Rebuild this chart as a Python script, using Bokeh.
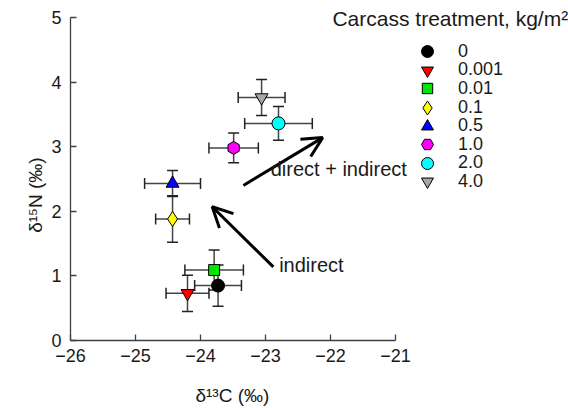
import math
from bokeh.plotting import figure
from bokeh.models import (Range1d, ColumnDataSource, Whisker, Arrow, OpenHead,
                          Label, Legend, LegendItem, TeeHead, LinearAxis)
from bokeh.embed import file_html
from bokeh.resources import INLINE

# ---- data ----
treatments = ["0", "0.001", "0.01", "0.1", "0.5", "1.0", "2.0", "4.0"]
d13C = [-23.73, -24.20, -23.79, -24.43, -24.43, -23.49, -22.80, -23.06]
d13C_err = [0.36, 0.33, 0.45, 0.26, 0.43, 0.38, 0.52, 0.36]
d15N = [0.85, 0.73, 1.09, 1.88, 2.43, 2.98, 3.36, 3.76]
d15N_err = [0.32, 0.28, 0.31, 0.36, 0.20, 0.23, 0.26, 0.28]

x_ticks = [-26, -25, -24, -23, -22, -21]
x_tick_labels = ["\u221226", "\u221225", "\u221224", "\u221223", "\u221222", "\u221221"]
y_ticks = [0, 1, 2, 3, 4, 5]
y_tick_labels = ["0", "1", "2", "3", "4", "5"]
x_title = "\u03b4\u00b9\u00b3C (\u2030)"
y_title = "\u03b4\u00b9\u2075N (\u2030)"

arrow_labels = ["direct + indirect", "indirect"]
arrow_start_x = [-23.34, -22.88]
arrow_start_y = [2.40, 1.14]
arrow_end_x = [-22.12, -23.82]
arrow_end_y = [3.14, 2.07]
arrow_text_x = [-22.92, -22.79]
arrow_text_y = [2.65, 1.17]

legend_title = "Carcass treatment, kg/m\u00b2"

# ---- styles / layout ----
markers = ["circle", "inverted_triangle", "square", "diamond", "triangle", "hex", "circle", "inverted_triangle"]
angles = [0, 0, 0, 0, 0, math.pi / 2, 0, 0]
sizes = [13, 13, 11, 15, 13, 13, 13, 13]
colors = ["#000000", "#ff0000", "#00e600", "#ffff00", "#0000ff", "#ff00ff", "#00ffff", "#a8a8a8"]
FONT = "Liberation Sans"
AXC = "#404040"
TXT = "#1a1a1a"
PX = 65.0  # pixels per data unit
LEFT, BOTTOM = 70, 66
W, H = 568, 408

x_lo, y_lo = -26, 0
x_hi = x_lo + (W - LEFT) / PX
y_hi = y_lo + (H - BOTTOM) / PX
frame_h = H - BOTTOM

p = figure(width=W, height=H, x_range=Range1d(x_lo, x_hi), y_range=Range1d(y_lo, y_hi),
           output_backend="svg", toolbar_location=None,
           min_border_left=LEFT, min_border_right=0, min_border_top=0, min_border_bottom=BOTTOM)
p.outline_line_color = None
p.grid.visible = False
p.background_fill_color = "white"
p.border_fill_color = "white"

p.xaxis[0].bounds = (x_ticks[0], x_ticks[-1])
p.yaxis[0].bounds = (y_ticks[0], y_ticks[-1])
for ax, ticks, labels, so in ((p.xaxis[0], x_ticks, x_tick_labels, 8),
                              (p.yaxis[0], y_ticks, y_tick_labels, 9)):
    ax.ticker = ticks
    ax.major_label_overrides = {float(t): l for t, l in zip(ticks, labels)}
    ax.major_tick_in = 6
    ax.major_tick_out = 0
    ax.minor_tick_line_color = None
    ax.axis_line_color = AXC
    ax.major_tick_line_color = AXC
    ax.axis_line_width = 1.3
    ax.major_tick_line_width = 1.3
    ax.major_label_text_font = FONT
    ax.major_label_text_font_size = "18px"
    ax.major_label_text_color = TXT
    ax.major_label_standoff = so
    ax.axis_label = None

# axis titles placed as single tick labels on secondary axes
xt = LinearAxis(ticker=[-23.51], major_label_overrides={-23.51: x_title},
                axis_line_color=None, major_tick_line_color=None, minor_tick_line_color=None,
                major_label_text_font=FONT, major_label_text_font_size="19px",
                major_label_text_color=TXT, major_label_standoff=14)
p.add_layout(xt, "below")
yt = LinearAxis(ticker=[2.25], major_label_overrides={2.25: y_title},
                axis_line_color=None, major_tick_line_color=None, minor_tick_line_color=None,
                major_label_text_font=FONT, major_label_text_font_size="19px",
                major_label_text_color=TXT, major_label_standoff=-4,
                major_label_orientation="vertical")
p.add_layout(yt, "left")

# error bars
src = ColumnDataSource(dict(
    x=d13C, y=d15N,
    xl=[a - e for a, e in zip(d13C, d13C_err)], xu=[a + e for a, e in zip(d13C, d13C_err)],
    yl=[a - e for a, e in zip(d15N, d15N_err)], yu=[a + e for a, e in zip(d15N, d15N_err)],
))
for dim, base, lo, up in (("width", "y", "xl", "xu"), ("height", "x", "yl", "yu")):
    w = Whisker(source=src, base=base, lower=lo, upper=up, dimension=dim,
                line_color="#444444", line_width=1.5, level="underlay",
                lower_head=TeeHead(size=11, line_color="#222222", line_width=1.5),
                upper_head=TeeHead(size=11, line_color="#222222", line_width=1.5))
    p.add_layout(w)

# markers + one small legend per item (lets marker size and row pitch differ)
LEG_GLYPH_W = 36
LEG_LEFT = 409          # canvas x of legend box left edge
LEG_TOP_CENTER = 53.3   # canvas y of first row centre
LEG_PITCH = 18.57       # canvas px between rows
for i, t in enumerate(treatments):
    r = p.scatter(x=[d13C[i]], y=[d15N[i]], marker=markers[i], size=sizes[i], angle=angles[i],
                  fill_color=colors[i], line_color="black", line_width=1)
    gh = int(round(sizes[i] * 0.93 / 0.4))
    yc = LEG_TOP_CENTER + LEG_PITCH * i
    leg = Legend(items=[LegendItem(label=t, renderers=[r])],
                 location=(LEG_LEFT - LEFT, frame_h - (yc + gh / 2.0)),
                 label_text_font=FONT, label_text_font_size="18px", label_text_color=TXT,
                 glyph_width=LEG_GLYPH_W, glyph_height=gh, label_height=gh, label_standoff=13,
                 spacing=0, padding=0, margin=0, border_line_color=None,
                 background_fill_alpha=0)
    p.add_layout(leg, "center")

p.add_layout(Label(x=-21.97, y=4.985, text=legend_title, text_font=FONT, text_font_size="21px",
                   text_baseline="middle", text_color=TXT))

for i in range(len(arrow_labels)):
    p.add_layout(Arrow(x_start=arrow_start_x[i], y_start=arrow_start_y[i],
                       x_end=arrow_end_x[i], y_end=arrow_end_y[i],
                       line_width=3, line_color="black",
                       end=OpenHead(size=20, line_width=3, line_color="black")))
    p.add_layout(Label(x=arrow_text_x[i], y=arrow_text_y[i], text=arrow_labels[i],
                       text_font=FONT, text_font_size="20px", text_baseline="middle",
                       text_color=TXT))

open("out.html", "w").write(file_html(p, INLINE))
